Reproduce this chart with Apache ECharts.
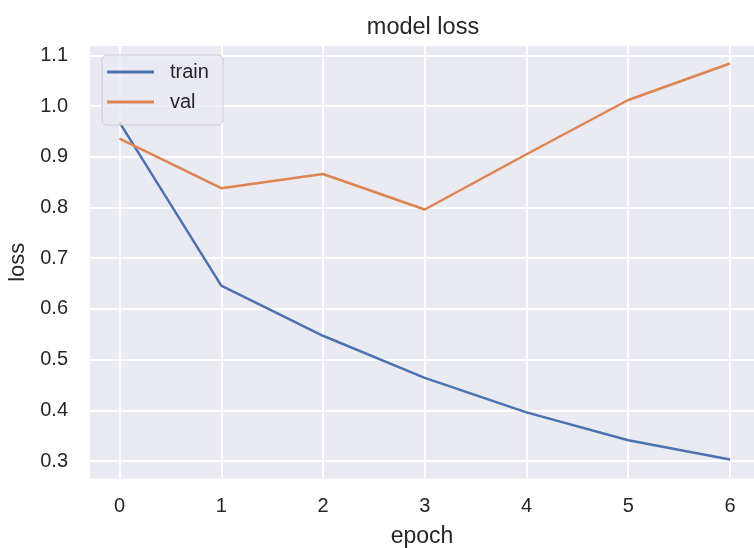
<!DOCTYPE html>
<html>
<head>
<meta charset="utf-8">
<script src="https://cdn.jsdelivr.net/npm/echarts@6/dist/echarts.min.js"></script>
<style>
html,body{margin:0;padding:0;background:#fff;}
#c{width:754px;height:548px;}
</style>
</head>
<body>
<div id="c"></div>
<script>
const epochs = [0, 1, 2, 3, 4, 5, 6];
const trainLoss = [0.968, 0.646, 0.547, 0.464, 0.396, 0.341, 0.303];
const valLoss = [0.936, 0.838, 0.866, 0.796, 0.905, 1.012, 1.084];
const yTicks = [0.3, 0.4, 0.5, 0.6, 0.7, 0.8, 0.9, 1.0, 1.1];
const xTicks = [0, 1, 2, 3, 4, 5, 6];

const FONT = '"Liberation Sans", Arial, sans-serif';
const TXT = '#262626';
const chart = echarts.init(document.getElementById('c'), null, {renderer: 'canvas'});
chart.setOption({
  animation: false,
  backgroundColor: '#ffffff',
  title: {
    text: 'model loss',
    left: 418, top: 11, textAlign: 'center',
    textStyle: {fontFamily: FONT, fontSize: 23.5, fontWeight: 'normal', color: TXT}
  },
  legend: {
    orient: 'vertical',
    left: 102, top: 55,
    padding: [7, 14, 13, 5],
    itemGap: 10,
    itemWidth: 47, itemHeight: 3,
    icon: 'rect',
    backgroundColor: 'rgba(234,234,242,0.8)',
    borderColor: '#cccccc', borderWidth: 1, borderRadius: 5,
    textStyle: {fontFamily: FONT, fontSize: 20, color: TXT, padding: [0, 0, 0, 11], lineHeight: 20},
    data: ['train', 'val']
  },
  grid: {
    left: 90, right: 0, top: 46, bottom: 69.5,
    outerBoundsMode: 'none', containLabel: false,
    show: true, backgroundColor: '#EAEAF2', borderWidth: 0
  },
  xAxis: {
    type: 'value', min: -0.29, max: 6.236,
    name: 'epoch', nameLocation: 'middle', nameGap: 47,
    nameTextStyle: {fontFamily: FONT, fontSize: 23, color: TXT},
    axisLine: {show: false},
    axisTick: {show: false, customValues: xTicks},
    axisLabel: {customValues: xTicks, fontFamily: FONT, fontSize: 20, color: TXT, margin: 18},
    splitLine: {show: true, lineStyle: {color: '#ffffff', width: 2}}
  },
  yAxis: {
    type: 'value', min: 0.2655, max: 1.1185,
    name: 'loss', nameLocation: 'middle', nameGap: 60,
    nameTextStyle: {fontFamily: FONT, fontSize: 22, color: TXT},
    axisLine: {show: false},
    axisTick: {show: false, customValues: yTicks},
    axisLabel: {customValues: yTicks, fontFamily: FONT, fontSize: 20, color: TXT, margin: 22,
      formatter: v => v.toFixed(1)},
    splitLine: {show: true, lineStyle: {color: '#ffffff', width: 2}}
  },
  series: [
    {name: 'train', type: 'line', symbol: 'none', color: '#4C72B0',
     lineStyle: {width: 2.5, color: '#4C72B0'},
     data: epochs.map((e, i) => [e, trainLoss[i]])},
    {name: 'val', type: 'line', symbol: 'none', color: '#DD8452',
     lineStyle: {width: 2.5, color: '#DD8452'},
     data: epochs.map((e, i) => [e, valLoss[i]])}
  ]
});
</script>
</body>
</html>
